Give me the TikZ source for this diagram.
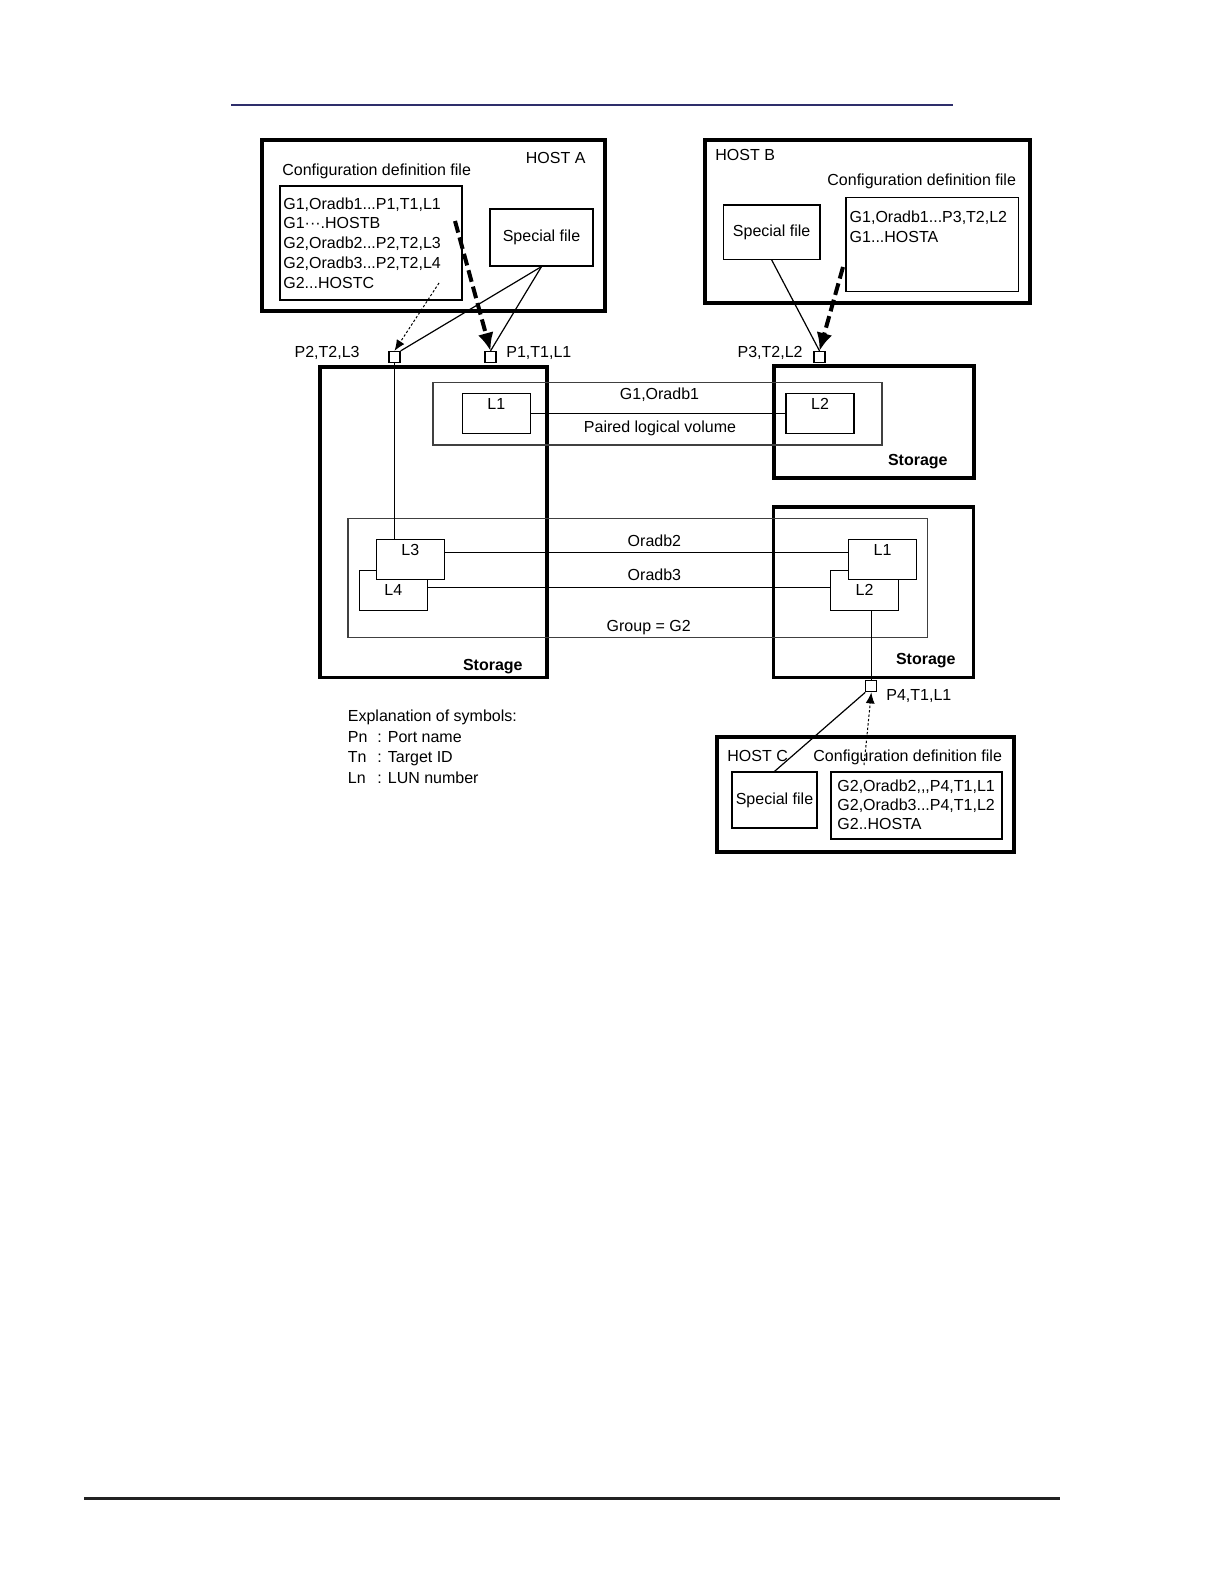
\documentclass[tikz,border=0pt]{standalone}
\usepackage{fontspec}
\setmainfont{Liberation Sans}
\usepackage{tikz}
\usetikzlibrary{arrows.meta}
\definecolor{rulenavy}{HTML}{2E2E6B}
\definecolor{rulegray}{HTML}{222222}
\tikzset{sz/.style 2 args={minimum width=#1,minimum height=#2},
  hostbox/.style={draw,line width=1.8pt,inner sep=0pt},
  storbox/.style={draw,line width=1.7pt,inner sep=0pt},
  filebox/.style={draw,line width=0.6pt,inner sep=0pt},
  grpbox/.style={draw=black!75,line width=0.6pt,inner sep=0pt},
  lunbox/.style={draw,fill=white,line width=0.6pt,inner sep=0pt,minimum width=34pt,minimum height=20pt},
  portbox/.style={draw,fill=white,line width=0.6pt,inner sep=0pt,minimum size=5.5pt},
  lbl/.style={anchor=north,inner sep=2.7pt},
  lbllow/.style={lbl,yshift=-4pt},
  txt/.style={inner sep=0pt,anchor=base west},
  ctxt/.style={inner sep=0pt,anchor=base},
  rtxt/.style={inner sep=0pt,anchor=base east},
  link/.style={line width=0.6pt},
  bigflow/.style={line width=2pt,dash pattern=on 6pt off 2.5pt,-{Latex[length=9pt,width=8pt]}},
  dotflow/.style={line width=0.5pt,dash pattern=on 1.2pt off 1pt,-{Latex[length=5.5pt,width=4.5pt]}}}

\begin{document}
\begin{tikzpicture}[x=0.5pt,y=-0.5pt,font=\fontsize{8}{9.8}\selectfont]
\useasboundingbox (0,0) rectangle (1224,1584);
% page rules
\draw[rulenavy,line width=0.6pt] (231,105) -- (953,105);
\draw[rulegray,line width=1.1pt] (84,1498.5) -- (1060,1498.5);

% host A
\node[hostbox,sz={171.5pt}{85.5pt}] (hostA) at (433.5,225.5) {};
\node[txt] (hostA-t) at (525.5,163) {HOST A};
\node[txt] (cfgA-t) at (282,175) {Configuration definition file};
\node[filebox,sz={91pt}{57pt}] (cfgA) at (371,243) {};
\node[txt] (cfgA-1) at (283,209) {G1,Oradb1...P1,T1,L1};
\node[txt] (cfgA-2) at (283,228.75) {G1···.HOSTB};
\node[txt] (cfgA-3) at (283,248.5) {G2,Oradb2...P2,T2,L3};
\node[txt] (cfgA-4) at (283,268.25) {G2,Oradb3...P2,T2,L4};
\node[txt] (cfgA-5) at (283,288) {G2...HOSTC};
\node[filebox,sz={51.5pt}{28.5pt}] (spA) at (541.5,237.5) {Special file};

% host B
\node[hostbox,sz={162.5pt}{81.5pt}] (hostB) at (867.5,221.5) {};
\node[txt] (hostB-t) at (715,160.7) {HOST B};
\node[txt] (cfgB-t) at (827,185.7) {Configuration definition file};
\node[filebox,sz={86.15pt}{47.2pt}] (cfgB) at (932.15,244.5) {};
\node[txt] (cfgB-1) at (849.3,222.7) {G1,Oradb1...P3,T2,L2};
\node[txt] (cfgB-2) at (849.3,242) {G1...HOSTA};
\node[filebox,sz={48.35pt}{27.15pt}] (spB) at (771.65,232.15) {Special file};

% storages
\node[storbox,sz={113.5pt}{155.25pt}] (storL) at (433.5,522.25) {};
\node[storbox,sz={100pt}{56pt}] (storRT) at (874,422) {};
\node[storbox,sz={100pt}{85.25pt}] (storRB) at (873.5,592.25) {};
\node[rtxt] (storL-t) at (523,670.7) {\bfseries Storage};
\node[rtxt] (storRT-t) at (948,465.7) {\bfseries Storage};
\node[rtxt] (storRB-t) at (956,664.7) {\bfseries Storage};

% groups and volumes
\node[grpbox,sz={224.5pt}{31.25pt}] (grpG1) at (657.5,413.75) {};
\node[grpbox,sz={289.85pt}{59.5pt}] (grpG2) at (637.85,578.2) {};
\node[lunbox] (lunL1) at (496.35,413.4) {};
\node[lunbox] (lunL2) at (820,413.4) {};
\node[lunbox] (lunL4) at (393.35,590.85) {};
\node[lunbox] (lunL3) at (410.35,559.5) {};
\node[lunbox] (lunR2) at (864.5,590.7) {};
\node[lunbox] (lunR1) at (882.5,559.65) {};
\node[lbl] (lunL1-t) at (lunL1.north) {L1};
\node[lbl] (lunL2-t) at (lunL2.north) {L2};
\node[lbl] (lunL3-t) at (lunL3.north) {L3};
\node[lbllow] (lunL4-t) at (lunL4.north) {L4};
\node[lbl] (lunR1-t) at (lunR1.north) {L1};
\node[lbllow] (lunR2-t) at (lunR2.north) {L2};
\draw[link] (lunL1.east) -- (lunL2.west);
\draw[link] (lunL3.12) -- (lunL3.12 -| lunR1.west);
\draw[link] (lunL4.6) -- (lunL4.6 -| lunR2.west);
\node[ctxt] (g1-t) at (659.5,399) {G1,Oradb1};
\node[ctxt] (pair-t) at (660,432.7) {Paired logical volume};
\node[ctxt] (ora2-t) at (654.4,546.4) {Oradb2};
\node[ctxt] (ora3-t) at (654.4,580) {Oradb3};
\node[ctxt] (g2-t) at (648.7,631.7) {Group = G2};

% ports
\node[portbox] (portP2) at (394.5,357) {};
\node[portbox] (portP1) at (490.5,357) {};
\node[portbox] (portP3) at (819.5,357) {};
\node[portbox] (portP4) at (871.3,686.3) {};
\node[rtxt] (portP2-t) at (360,357.5) {P2,T2,L3};
\node[txt] (portP1-t) at (506,357.5) {P1,T1,L1};
\node[rtxt] (portP3-t) at (803,357.5) {P3,T2,L2};
\node[txt] (portP4-t) at (886,700.7) {P4,T1,L1};
\draw[link] (portP2.south) -- (portP2 |- lunL3.north);
\draw[link] (portP4.north) -- (portP4 |- lunR2.south);

% host C
\node[hostbox,sz={148.5pt}{57.5pt}] (hostC) at (865.5,794.5) {};
\node[txt] (hostC-t) at (727,761.7) {HOST C};
\node[txt] (cfgC-t) at (813,761.7) {Configuration definition file};
\node[filebox,sz={42.5pt}{28pt}] (spC) at (774.5,800) {Special file};
\node[filebox,sz={85.5pt}{33.5pt}] (cfgC) at (916.5,805.5) {};
\node[txt] (cfgC-1) at (837,791.7) {G2,Oradb2,\kern0pt,\kern0pt,P4,T1,L1};
\node[txt] (cfgC-2) at (837,810.7) {G2,Oradb3...P4,T1,L2};
\node[txt] (cfgC-3) at (837,829.7) {G2..HOSTA};

% special file links
\draw[link] (spA.south) -- (portP2.north east);
\draw[link] (spA.south) -- (portP1.north);
\draw[link] (spB.south) -- (portP3.north);
\draw[link] (spC.north) -- (portP4.south west);

% configuration file links
\coordinate (srcA) at (455,221);
\coordinate (srcB) at (843,267);
\coordinate (dotA) at (439,283);
\coordinate (dotC) at (864,765);
\draw[bigflow] (srcA) -- (portP1.north);
\draw[bigflow] (srcB) -- (portP3.north);
\draw[dotflow] (dotA) -- (portP2.north);
\draw[dotflow] (dotC) -- (portP4.south);

% legend
\node[txt] (leg-t) at (347.5,721.7) {Explanation of symbols:};
\foreach \sym/\desc [count=\i] in {Pn/Port name,Tn/Target ID,Ln/LUN number}{
  \node[txt] (leg\sym) at (347.5,{721.7+20.6*\i}) {\sym};
  \node[txt] (col\sym) at (377,{721.7+20.6*\i}) {:};
  \node[txt] (def\sym) at (387.5,{721.7+20.6*\i}) {\desc};
}
\end{tikzpicture}
\end{document}
